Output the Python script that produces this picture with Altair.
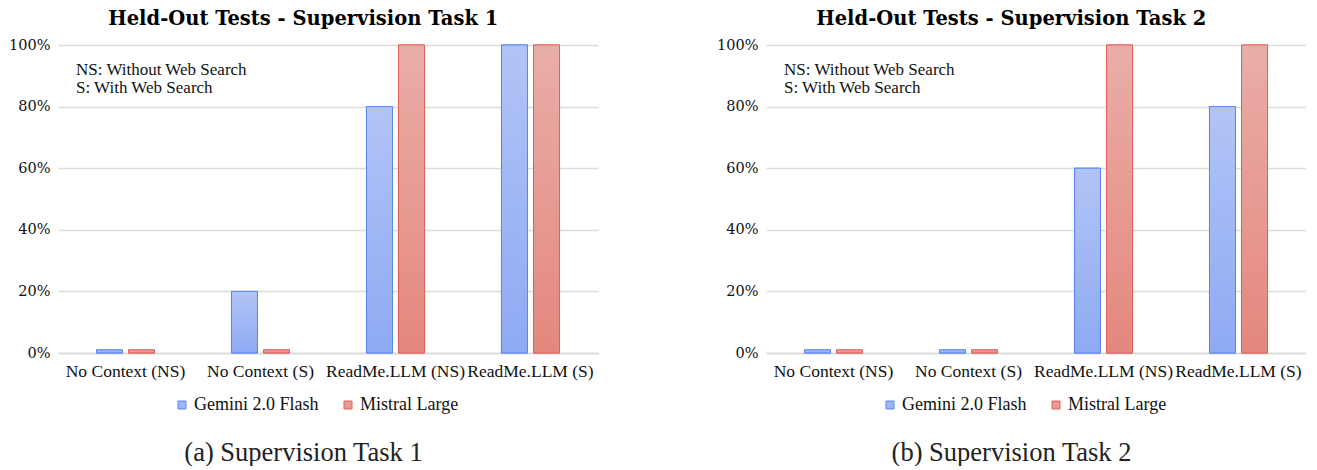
import altair as alt
import pandas as pd

categories = ["No Context (NS)", "No Context (S)", "ReadMe.LLM (NS)", "ReadMe.LLM (S)"]
series = ["Gemini 2.0 Flash", "Mistral Large"]
task1_gemini = [0.01, 0.20, 0.80, 1.00]
task1_mistral = [0.01, 0.01, 1.00, 1.00]
task2_gemini = [0.01, 0.01, 0.60, 0.80]
task2_mistral = [0.01, 0.01, 1.00, 1.00]
titles = ["Held-Out Tests - Supervision Task 1", "Held-Out Tests - Supervision Task 2"]
captions = ["(a) Supervision Task 1", "(b) Supervision Task 2"]
note_lines = ["NS: Without Web Search", "S: With Web Search"]

FILL_MID = ["#9fb6f4", "#e79a92"]
STROKE = ["#5a87ef", "#e0625c"]
GRAD_BLUE = {"gradient": "linear", "x1": 0, "y1": 0, "x2": 0, "y2": 1,
             "stops": [{"offset": 0, "color": "#b2c4f6"}, {"offset": 1, "color": "#8eaaf3"}]}
GRAD_RED = {"gradient": "linear", "x1": 0, "y1": 0, "x2": 0, "y2": 1,
            "stops": [{"offset": 0, "color": "#e9aea8"}, {"offset": 1, "color": "#e4877e"}]}

SERIF = "Liberation Serif"
WIDE = "DejaVu Serif"


def legend_def():
    return alt.Legend(title=None, orient="none", legendX=115, legendY=351,
                      direction="horizontal", symbolType="square",
                      symbolSize=64, symbolStrokeWidth=1,
                      labelFont=SERIF, labelFontSize=18, labelColor="#111",
                      labelOffset=3, columnPadding=20)


def panel(gem, mis, title, caption):
    rows = []
    for c, g, m in zip(categories, gem, mis):
        rows.append({"category": c, "series": series[0], "value": g})
        rows.append({"category": c, "series": series[1], "value": m})
    df = pd.DataFrame(rows)

    x = alt.X("category:N", sort=categories,
              scale=alt.Scale(paddingInner=0.57, paddingOuter=0.285),
              axis=alt.Axis(title=caption, labelAngle=0, labelFont=SERIF, labelFontSize=17.5,
                            labelColor="#111", labelPadding=9, ticks=False,
                            domainColor="#d9d9d9", domainWidth=1.5,
                            titleFont=SERIF, titleFontSize=26.5, titleFontWeight="normal",
                            titleColor="#222", titlePadding=60, titleX=245))
    xo = alt.XOffset("series:N", sort=series,
                     scale=alt.Scale(domain=series, paddingInner=0.19, paddingOuter=0))
    y = alt.Y("value:Q", scale=alt.Scale(domain=[0, 1], nice=False),
              axis=alt.Axis(title=None, format=".0%", values=[0, 0.2, 0.4, 0.6, 0.8, 1.0],
                            labelFont=WIDE, labelFontSize=14.5, labelColor="#111",
                            labelPadding=8, ticks=False, domain=False,
                            gridColor="#dcdcdc", gridWidth=1.5))

    base = alt.Chart(df).mark_bar(strokeWidth=1).encode(
        x=x, xOffset=xo, y=y,
        fill=alt.Fill("series:N", sort=series,
                      scale=alt.Scale(domain=series, range=FILL_MID),
                      legend=legend_def()),
        stroke=alt.Stroke("series:N", sort=series,
                          scale=alt.Scale(domain=series, range=STROKE),
                          legend=legend_def()),
    )
    grad = alt.Chart(df).mark_bar(strokeWidth=1).encode(
        x=x, xOffset=xo, y=y,
        fill=alt.condition(alt.datum.series == series[0], alt.value(GRAD_BLUE), alt.value(GRAD_RED)),
        stroke=alt.condition(alt.datum.series == series[0], alt.value(STROKE[0]), alt.value(STROKE[1])),
    )
    note = alt.Chart(pd.DataFrame({"a": [0]})).mark_text(
        text=note_lines, align="left", baseline="top", font=SERIF, fontSize=17,
        lineHeight=18, color="#111", dx=-49.5
    ).encode(x=alt.datum(categories[0]), y=alt.datum(0.945))

    return alt.layer(base, grad, note).properties(
        width=540, height=308,
        title=alt.TitleParams(title, font=WIDE, fontSize=19.5, fontWeight="bold",
                              color="#000", anchor="middle", frame="bounds", offset=8)
    ).resolve_scale(fill="independent", stroke="independent")


left = panel(task1_gemini, task1_mistral, titles[0], captions[0])
right = panel(task2_gemini, task2_mistral, titles[1], captions[1])

chart = alt.hconcat(left, right, spacing=118).resolve_scale(
    fill="independent", stroke="independent", x="independent", y="independent"
).resolve_legend(fill="independent", stroke="independent").properties(
    padding={"left": 0, "top": 0, "right": 0, "bottom": 0}
).configure(background="white").configure_view(stroke=None)

chart.save("out.html", embed_options={"renderer": "svg", "actions": False})
